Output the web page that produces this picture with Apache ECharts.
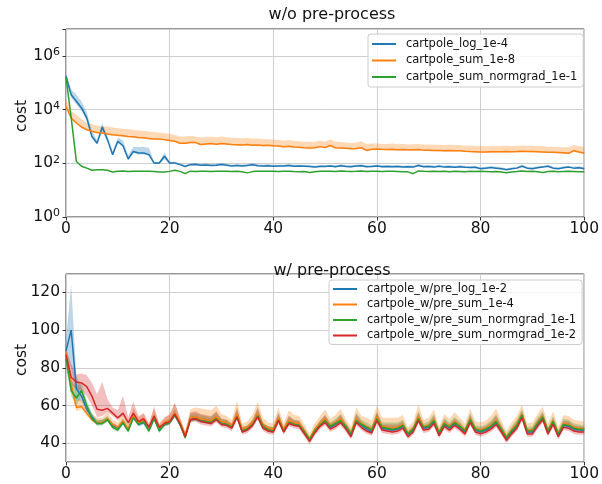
<!DOCTYPE html>
<html><head><meta charset="utf-8">
<script src="https://cdn.jsdelivr.net/npm/echarts@6/dist/echarts.min.js"></script>
<style>html,body{margin:0;padding:0;background:#fff}#c{width:602px;height:484px}</style>
</head><body><div id="c"></div>
<script>
// ---------- data ----------
const steps = [0,1,2,3,4,5,6,7,8,9,10,11,12,13,14,15,16,17,18,19,20,21,22,23,24,25,26,27,28,29,30,31,32,33,34,35,36,37,38,39,40,41,42,43,44,45,46,47,48,49,50,51,52,53,54,55,56,57,58,59,60,61,62,63,64,65,66,67,68,69,70,71,72,73,74,75,76,77,78,79,80,81,82,83,84,85,86,87,88,89,90,91,92,93,94,95,96,97,98,99,100];
const xTicks = [0,20,40,60,80,100];
const topNames = ['cartpole_log_1e-4','cartpole_sum_1e-8','cartpole_sum_normgrad_1e-1'];
const botNames = ['cartpole_w/pre_log_1e-2','cartpole_w/pre_sum_1e-4','cartpole_w/pre_sum_normgrad_1e-1','cartpole_w/pre_sum_normgrad_1e-2'];

// top panel (w/o pre-process), log scale
const topLog = [174000,35500,20400,11500,4900,1000,560,2240,760,210, 660,450,145,275,240,240,210,102,102,182, 102,102,89,76,89,91,85,87,83,85, 91,85,79,83,79,83,89,81,79,81, 78,79,79,83,78,79,78,76,72,76, 76,79,74,81,76,74,79,81,74,76, 79,74,76,74,76,72,74,72,83,74, 76,72,78,72,74,71,74,71,69,71, 63,66,69,66,63,58,62,66,78,66, 63,68,72,78,66,63,68,72,66,68,63];
const topLogHi = [224000,56000,35500,20000,7900,1580,710,3160,1000,282, 890,710,200,400,400,400,380,112,112,251, 115,115,101,86,101,103,96,98,94,96, 103,96,89,94,89,94,101,92,89,92, 88,89,89,94,88,89,88,86,81,86, 86,89,84,92,86,84,89,92,84,86, 89,84,86,84,86,81,84,81,94,84, 86,81,88,81,84,80,84,80,78,80, 71,75,78,75,71,66,70,75,88,75, 71,77,81,88,75,71,77,81,75,77,71];
const topLogLo = [126000,28000,15800,8900,4000,890,500,1580,630,190, 560,400,132,240,214,214,190,95,95,141, 98,98,85,73,85,87,82,84,80,82, 87,82,76,80,76,80,85,78,76,78, 75,76,76,80,75,76,75,73,69,73, 73,76,71,78,73,71,76,78,71,73, 76,71,73,71,73,69,71,69,80,71, 73,69,75,69,71,68,71,68,66,68, 60,63,66,63,60,56,60,63,75,63, 60,65,69,75,63,60,65,69,63,65,60];
const topSum = [13000,4790,3160,2240,1780,1550,1410,1350,1230,1150, 1100,1070,1000,980,910,890,830,810,810,760, 710,660,560,560,600,590,500,525,540,510, 550,525,500,490,480,500,470,480,457,470, 447,437,417,427,407,398,380,372,380,417, 389,457,380,372,363,347,355,380,302,331, 339,331,324,331,316,324,316,316,324,309, 309,302,302,295,302,295,295,282,275,269, 263,263,269,269,269,275,269,275,282,275, 275,269,263,257,257,251,245,234,295,263,240];
const topSumHi = [24000,8900,6300,4470,3160,2820,2510,2400,2290,2140, 2000,1950,1860,1780,1660,1580,1510,1450,1410,1320, 1260,1120,1000,1000,1050,1000,910,955,980,930, 1000,930,890,870,850,870,830,830,790,790, 760,740,710,720,690,660,630,620,630,710, 630,790,630,620,600,575,600,660,525,550, 540,525,525,540,510,525,500,510,525,500, 500,490,490,480,490,480,480,457,447,437, 427,427,437,437,437,447,437,447,457,447, 447,437,427,417,417,407,398,398,480,437,398];
const topSumLo = [12000,4450,2940,2080,1650,1440,1310,1260,1140,1070, 1020,995,930,910,845,830,770,755,755,705, 660,615,520,520,560,550,465,490,500,475, 510,490,465,455,445,465,437,445,425,437, 415,406,388,397,378,370,353,346,353,388, 362,425,353,346,338,323,330,353,281,308, 315,308,301,308,294,301,294,294,301,287, 287,281,281,274,281,274,274,262,256,250, 245,245,250,250,250,256,250,256,262,256, 256,250,245,239,239,233,228,218,274,245,223];
const topNorm = [158000,5000,117,78,66,55,58,58,55,47, 51,52,49,51,50,50,50,49,47,47, 50,55,50,41,51,49,51,50,49,51, 50,51,49,50,48,44,49,50,51,50, 50,49,50,51,49,48,49,45,48,50, 50,51,49,52,50,49,50,52,49,50, 51,49,50,50,49,48,48,41,52,50, 49,50,49,50,48,50,49,48,50,49, 50,49,48,49,47,44,47,49,52,49, 50,48,45,49,51,48,49,50,49,48,48];

// bottom panel (w/ pre-process)
const botLog = [89,100,69,65,58,54,50.5,51,52.5,49.5, 48,51,47,54,50,51,47,53.5,47,50, 51,55,50,44,52.5,53,52,51.5,51,53, 50.5,50,48.5,54.5,46.5,47.5,50,54.5,49,47, 46.5,52.5,46.5,51,50,49.5,46,41.5,46.5,49.5, 52,48.5,50,52,48.5,44.5,52,49.5,47.5,46, 53,48,47.5,47,47.5,49,44.5,47,53,48, 48.5,51.5,45,50,48,50.5,48.5,46,52,47, 46,47,48.5,51,47,42.5,46,49,54.5,46, 46,50,53.5,46,51,44.5,49.5,49,47.5,47,47];
const botLogUp = [6,24,7,4,3,2,1.5,1.5,1.5,1.5, 1.5,1.5,1,1.5,1,1,1,1.5,1,1, 1,1.5,1,1,1.5,1.5,1.5,1.5,1.5,1.5, 1,1,1,1.5,1,1,1,1.5,1,1, 1,1.5,1,1.5,1,1,1,1,1,1, 1.5,1,1,1.5,1,1,1.5,1,1,1, 1.5,1,1,1,1,1,1,1,1.5,1, 1,1.5,1,1,1,1.5,1,1,1.5,1, 1,1,1,1.5,1,1,1,1,1.5,1, 1,1,1.5,1,1.5,1,1,1,1,1,1];
const botLogDown = [6,20,6,3,2,1.5,1,1,1,1, 1,1,1,1,1,1,1,1,1,1, 1,1,1,1,1,1,1,1,1,1, 1,1,1,1,1,1,1,1,1,1, 1,1,1,1,1,1,1,1,1,1, 1,1,1,1,1,1,1,1,1,1, 1,1,1,1,1,1,1,1,1,1, 1,1,1,1,1,1,1,1,1,1, 1,1,1,1,1,1,1,1,1,1, 1,1,1,1,1,1,1,1,1,1,1];
const botSum = [88,71,59,59.5,56,52.5,51,51,53,50, 48.5,52,47.5,55,51,52.5,48,54.5,48,51, 52,56,51,44.5,53.5,54,53,52.5,52,54, 51.5,51,49.5,55.5,47.5,48.5,51,55.5,50,48, 47.5,53.5,47.5,52,51,50.5,47,42.5,47.5,50.5, 53,49.5,51,53,49.5,45.5,53,50.5,49,47.5, 54,49,48.5,48,48.5,50,45.5,48,54,49, 49.5,52.5,46,51,49,51.5,49.5,47,53,48, 47,48,49.5,52,48,43.5,47,50,55.5,47, 47,51,54.5,47,52,45.5,50.5,50,48.5,48,48];
const botSumUp = [5,5,4,4,3,3,2.5,2.5,3.5,2.5, 2.5,3.5,2.5,4,2.5,3,2,4,2,2.5, 3,5,3,2,4.5,5,5.5,5.5,5.5,6, 4,3.5,3,7,3,3,4,6.5,3.5,3, 3,5.5,3,5.5,4,4,3,2.5,3,4, 5,3.5,4,5.5,3.5,3,6,4,4.5,4.5, 6,4.5,5,5.5,5,5,3,3.5,6.5,3.5, 4,5.5,3,4.5,4,5,4,3.5,5.5,3.5, 4,4,5,6.5,4,3,4,4.5,5,3.5, 4,4.5,5,3.5,5,3,4.5,4.5,4,4,3.5];
const botSumDown = [4,3,2,1.5,1.5,1,1,1,1,1, 1,1,1,1,1,1,1,1,1,1, 1,1,1,1,1,1,1,1,1,1, 1,1,1,1,1,1,1,1,1,1, 1,1,1,1,1,1,1,1,1,1, 1,1,1,1,1,1,1,1,1,1, 1,1,1,1,1,1,1,1,1,1, 1,1,1,1,1,1,1,1,1,1, 1,1,1,1,1,1,1,1,1,1, 1,1,1,1,1,1,1,1,1,1,1];
const botNorm1 = [85,68,64,68,60,53,50.5,50.5,52.5,48.5, 47,51,46.5,53.5,50,51.5,46.5,53,46.5,50, 51,55,50,43,52.5,53,52,51.5,51,53, 50.5,50,48.5,54,46.5,47.5,50,54.5,49,47, 46.5,52.5,46.5,51,50,49.5,46,42,46.5,49.5, 52,49,50.5,52,49,45,52,50,48.5,47, 53,48.5,48,47.5,48,49.5,45,47.5,53,48.5, 49,52,45.5,50.5,48.5,51,49,46.5,52.5,47.5, 46.5,47.5,49,51.5,47.5,43,46.5,49.5,55,46.5, 46.5,50.5,54,46.5,51.5,45,50,49.5,48,47.5,47.5];
const botNorm1Up = [4,5,6,4,3,2.5,2,2,2,2, 2,2.5,2,3,2,2,1.5,3,1.5,2, 2,3,2,1.5,3,3,3,3,3,3.5, 2.5,2.5,2,4,2,2,2.5,4,2,2, 2,3.5,2,3.5,2.5,2.5,2,1.5,2,2.5, 3,2,2.5,3.5,2,2,4,2.5,2.5,2.5, 3.5,2.5,3,3.5,3,3,2,2,4,2, 2.5,3.5,2,3,2.5,3,2.5,2,3.5,2, 2.5,2.5,3,4,2.5,2,2.5,3,3,2, 2.5,3,3,2,3,2,3,3,2.5,2.5,2];
const botNorm1Down = [4,3,4,3,2,1,1,1,1,1, 1,1,1,1,1,1,1,1,1,1, 1,1,1,1,1,1,1,1,1,1, 1,1,1,1,1,1,1,1,1,1, 1,1,1,1,1,1,1,1,1,1, 1,1,1,1,1,1,1,1,1,1, 1,1,1,1,1,1,1,1,1,1, 1,1,1,1,1,1,1,1,1,1, 1,1,1,1,1,1,1,1,1,1, 1,1,1,1,1,1,1,1,1,1,1];
const botNorm2 = [87,75,72.5,72,70,65,58,57.5,58.5,56, 53.5,56,51,56,51.5,53,48.5,54.5,48.5,50.5, 51.5,55.5,50.5,43.5,52.5,53,51.5,51,50.5,52.5, 50,49.5,48,54,46,47,49.5,54,48,46.5, 46,52,46,50.5,49.5,49,45,41,45.5,49, 51,47.5,49,51,47.5,43.5,51,48.5,46.5,45.5, 52,47,46.5,46,46.5,48,43.5,46,52,47, 47.5,50.5,44,49,47,49.5,47.5,45,51,46, 45,46,47.5,50,46,41.5,45,48,53.5,45, 45,49,52.5,45,50,43.5,48.5,48,46.5,46,46];
const botNorm2Up = [3,7,4,5,6,7,8,15,5,3, 4,9,3,6,3,3,2,5,2,3, 4,6,3,2,4,4,4,4,4,4.5, 3,3,2.5,5,2.5,2.5,3,5,2.5,2.5, 2.5,4,2.5,4,3,3,2.5,2,2.5,3, 4,3,3,4,3,2.5,4.5,3,3,3, 4.5,3,3.5,4,3.5,3.5,2.5,2.5,4.5,2.5, 3,4,2.5,3.5,3,3.5,3,2.5,4,2.5, 3,3,3.5,4.5,3,2.5,3,3.5,3.5,2.5, 3,3.5,3.5,2.5,3.5,2.5,3.5,3.5,3,3,2.5];
const botNorm2Down = [4,4,4,4,5,5,4,3,2,1.5, 1.5,1.5,1.5,1.5,1.5,1.5,1.5,1.5,1.5,1.5, 1.5,1.5,1.5,1.5,1.5,1.5,1.5,1.5,1.5,1.5, 1.5,1.5,1.5,1.5,1.5,1.5,1.5,1.5,1.5,1.5, 1.5,1.5,1.5,1.5,1.5,1.5,1.5,1.5,1.5,1.5, 1.5,1.5,1.5,1.5,1.5,1.5,1.5,1.5,1.5,1.5, 1.5,1.5,1.5,1.5,1.5,1.5,1.5,1.5,1.5,1.5, 1.5,1.5,1.5,1.5,1.5,1.5,1.5,1.5,1.5,1.5, 1.5,1.5,1.5,1.5,1.5,1.5,1.5,1.5,1.5,1.5, 1.5,1.5,1.5,1.5,1.5,1.5,1.5,1.5,1.5,1.5,1.5];

// ---------- chart ----------
const FONT = 'DejaVu Sans';
const COL = ['#1f77b4','#ff7f0e','#2ca02c','#d62728'];
const BAND = ['rgba(31,119,180,0.3)','rgba(255,127,14,0.3)','rgba(44,160,44,0.3)','rgba(214,39,40,0.3)'];
const pts = arr => arr.map((v, i) => [steps[i], v]);

// shaded band between lo and hi, drawn as one polygon through the axis scales
function bandSeries(lo, hi, color, g) {
  return {
    type: 'custom', xAxisIndex: g, yAxisIndex: g, silent: true, z: 1, animation: false,
    data: steps.map((x, i) => [x, lo[i], hi[i]]),
    encode: {x: 0, y: [1, 2]},
    renderItem: (params, api) => {
      if (params.dataIndex !== 0) return null;
      const top = [], bot = [];
      for (let i = 0; i < steps.length; i++) {
        top.push(api.coord([steps[i], hi[i]]));
        bot.push(api.coord([steps[i], lo[i]]));
      }
      return {type: 'polygon', shape: {points: top.concat(bot.reverse())}, style: {fill: color}, silent: true};
    }
  };
}
function lineSeries(name, arr, color, g) {
  return {name, type: 'line', xAxisIndex: g, yAxisIndex: g, symbol: 'none', data: pts(arr),
    lineStyle: {color, width: 1.5}, itemStyle: {color}, z: 3, animation: false};
}
const plus = (a, d) => a.map((v, i) => v + d[i]);
const minus = (a, d) => a.map((v, i) => v - d[i]);

const series = [
  bandSeries(topLogLo, topLogHi, BAND[0], 0),
  bandSeries(topSumLo, topSumHi, BAND[1], 0),
  lineSeries(topNames[0], topLog, COL[0], 0),
  lineSeries(topNames[1], topSum, COL[1], 0),
  lineSeries(topNames[2], topNorm, COL[2], 0),
  bandSeries(minus(botLog, botLogDown), plus(botLog, botLogUp), BAND[0], 1),
  bandSeries(minus(botSum, botSumDown), plus(botSum, botSumUp), BAND[1], 1),
  bandSeries(minus(botNorm1, botNorm1Down), plus(botNorm1, botNorm1Up), BAND[2], 1),
  bandSeries(minus(botNorm2, botNorm2Down), plus(botNorm2, botNorm2Up), BAND[3], 1),
  lineSeries(botNames[0], botLog, COL[0], 1),
  lineSeries(botNames[1], botSum, COL[1], 1),
  lineSeries(botNames[2], botNorm1, COL[2], 1),
  lineSeries(botNames[3], botNorm2, COL[3], 1)
];

const axisCommon = {
  axisLine: {show: false},
  axisTick: {show: true, length: 3.5, lineStyle: {color: '#333', width: 1}},
  splitLine: {show: true, lineStyle: {color: '#cfcfcf', width: 1}},
};
const xAxisOf = g => Object.assign({}, axisCommon, {
  type: 'value', gridIndex: g, min: xTicks[0], max: xTicks[xTicks.length - 1], interval: 20,
  axisLabel: {fontFamily: FONT, fontSize: 15.5, color: '#111', margin: 4}
});

const option = {
  backgroundColor: '#fff',
  animation: false,
  title: [
    {text: 'w/o pre-process', left: 327, top: 2, textAlign: 'center',
     textStyle: {fontFamily: FONT, fontSize: 16, fontWeight: 'normal', color: '#111'}},
    {text: 'w/ pre-process', left: 327, top: 258, textAlign: 'center',
     textStyle: {fontFamily: FONT, fontSize: 16, fontWeight: 'normal', color: '#111'}}
  ],
  grid: [
    {left: 66, top: 29, width: 522, height: 188, show: true, borderColor: '#333', borderWidth: 1, backgroundColor: 'transparent'},
    {left: 66, top: 274, width: 522, height: 188, show: true, borderColor: '#333', borderWidth: 1, backgroundColor: 'transparent'}
  ],
  xAxis: [xAxisOf(0), xAxisOf(1)],
  yAxis: [
    Object.assign({}, axisCommon, {
      type: 'log', gridIndex: 0, min: 1, max: 1e7, logBase: 10, interval: 2,
      minorTick: {show: false}, minorSplitLine: {show: false},
      axisLabel: {
        margin: 6,
        formatter: v => {
          const e = Math.round(Math.log10(v));
          return e % 2 === 0 ? '{b|10}{s|' + e + '}' : '';
        },
        rich: {
          b: {fontFamily: FONT, fontSize: 15.5, color: '#111'},
          s: {fontFamily: FONT, fontSize: 11, color: '#111', verticalAlign: 'top', padding: [0, 0, 7, 0]}
        }
      }
    }),
    Object.assign({}, axisCommon, {
      type: 'value', gridIndex: 1, min: 30.1, max: 129.7, splitNumber: 5,
      axisLabel: {fontFamily: FONT, fontSize: 15.5, color: '#111', margin: 6,
        formatter: v => (Math.abs(v % 20) < 1e-6 ? String(v) : ''), showMinLabel: false, showMaxLabel: false}
    })
  ],
  legend: [
    {data: topNames, orient: 'vertical', left: 368, top: 34, icon: 'rect', itemWidth: 24, itemHeight: 2,
     itemGap: 4.5, padding: [4, 6, 4, 4], backgroundColor: 'rgba(255,255,255,0.8)',
     borderColor: '#cccccc', borderWidth: 1, borderRadius: 3,
     textStyle: {fontFamily: FONT, fontSize: 11.5, color: '#111', padding: [0, 0, 0, 5]}},
    {data: botNames, orient: 'vertical', left: 329, top: 280, icon: 'rect', itemWidth: 24, itemHeight: 2,
     itemGap: 3.5, padding: [3, 6, 3, 4], backgroundColor: 'rgba(255,255,255,0.8)',
     borderColor: '#cccccc', borderWidth: 1, borderRadius: 3,
     textStyle: {fontFamily: FONT, fontSize: 11.5, color: '#111', padding: [0, 0, 0, 5]}}
  ],
  graphic: [
    {type: 'text', x: 22, y: 116, rotation: Math.PI / 2,
     style: {text: 'cost', font: '15.5px "DejaVu Sans"', fill: '#111', align: 'center', verticalAlign: 'middle'}},
    {type: 'text', x: 22, y: 360, rotation: Math.PI / 2,
     style: {text: 'cost', font: '15.5px "DejaVu Sans"', fill: '#111', align: 'center', verticalAlign: 'middle'}}
  ],
  series
};
const chart = echarts.init(document.getElementById('c'));
chart.setOption(option);
</script>
</body></html>
